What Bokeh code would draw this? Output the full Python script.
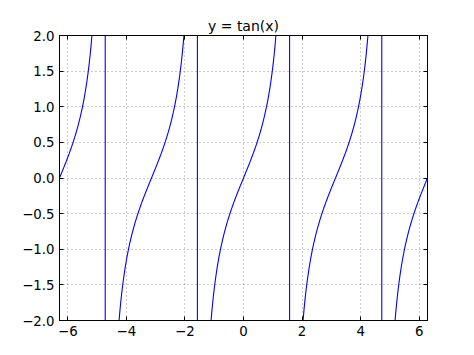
import numpy as np
from bokeh.plotting import figure
from bokeh.models import LinearAxis, Range1d, FixedTicker
from bokeh.embed import file_html
from bokeh.resources import INLINE

# data: y = tan(x) sampled on [-2pi, 2pi]
x_min = -2 * np.pi
x_max = 2 * np.pi
n_points = 1000
x = np.linspace(x_min, x_max, n_points)
y = np.tan(x)

x_ticks = [-6, -4, -2, 0, 2, 4, 6]
y_ticks = [-2.0, -1.5, -1.0, -0.5, 0.0, 0.5, 1.0, 1.5, 2.0]
title = "y = tan(x)"

p = figure(width=474, height=355, output_backend="svg", toolbar_location=None,
           x_range=Range1d(x_min, x_max), y_range=Range1d(-2, 2),
           frame_width=368, frame_height=285,
           min_border_left=59, min_border_right=47, min_border_top=35, min_border_bottom=35,
           x_axis_location=None, y_axis_location=None)
p.title.text = title
p.title.align = "center"
p.title.text_font = "DejaVu Sans"
p.title.text_font_size = "10.5pt"
p.title.text_font_style = "normal"
p.title.text_color = "black"
p.title.offset = 0
p.title.standoff = 4

p.line(x, y, line_color="#0000ff", line_width=1.1)

def style_axis(ax, labels=True):
    ax.axis_line_color = "black"
    ax.axis_line_width = 1
    ax.major_tick_in = 4
    ax.major_tick_out = 0
    ax.minor_tick_in = 0
    ax.minor_tick_out = 0
    ax.major_tick_line_color = "black"
    ax.major_label_text_font = "DejaVu Sans"
    ax.major_label_text_font_size = "10pt"
    ax.major_label_text_color = "black"
    ax.major_label_standoff = 5
    if not labels:
        ax.major_label_text_font_size = "0pt"
        ax.major_label_text_alpha = 0

xt = FixedTicker(ticks=x_ticks)
yt = FixedTicker(ticks=y_ticks)

xb = LinearAxis(ticker=xt)
xb.major_label_overrides = {v: (str(v).replace("-", "\u2212")) for v in x_ticks}
style_axis(xb)
xa = LinearAxis(ticker=xt)
style_axis(xa, labels=False)
yl = LinearAxis(ticker=yt)
yl.major_label_overrides = {v: ("%.1f" % v).replace("-", "\u2212") for v in y_ticks}
style_axis(yl)
yr = LinearAxis(ticker=yt)
style_axis(yr, labels=False)

p.add_layout(xb, "below")
p.add_layout(xa, "above")
p.add_layout(yl, "left")
p.add_layout(yr, "right")

p.xgrid.ticker = xt
p.ygrid.ticker = yt
for g in (p.xgrid, p.ygrid):
    g.grid_line_color = "black"
    g.grid_line_alpha = 0.4
    g.grid_line_dash = "1 3"
    g.grid_line_width = 1

p.outline_line_color = "black"
p.outline_line_width = 1
p.background_fill_color = "white"
p.border_fill_color = "white"

open("out.html", "w").write(file_html(p, INLINE))
